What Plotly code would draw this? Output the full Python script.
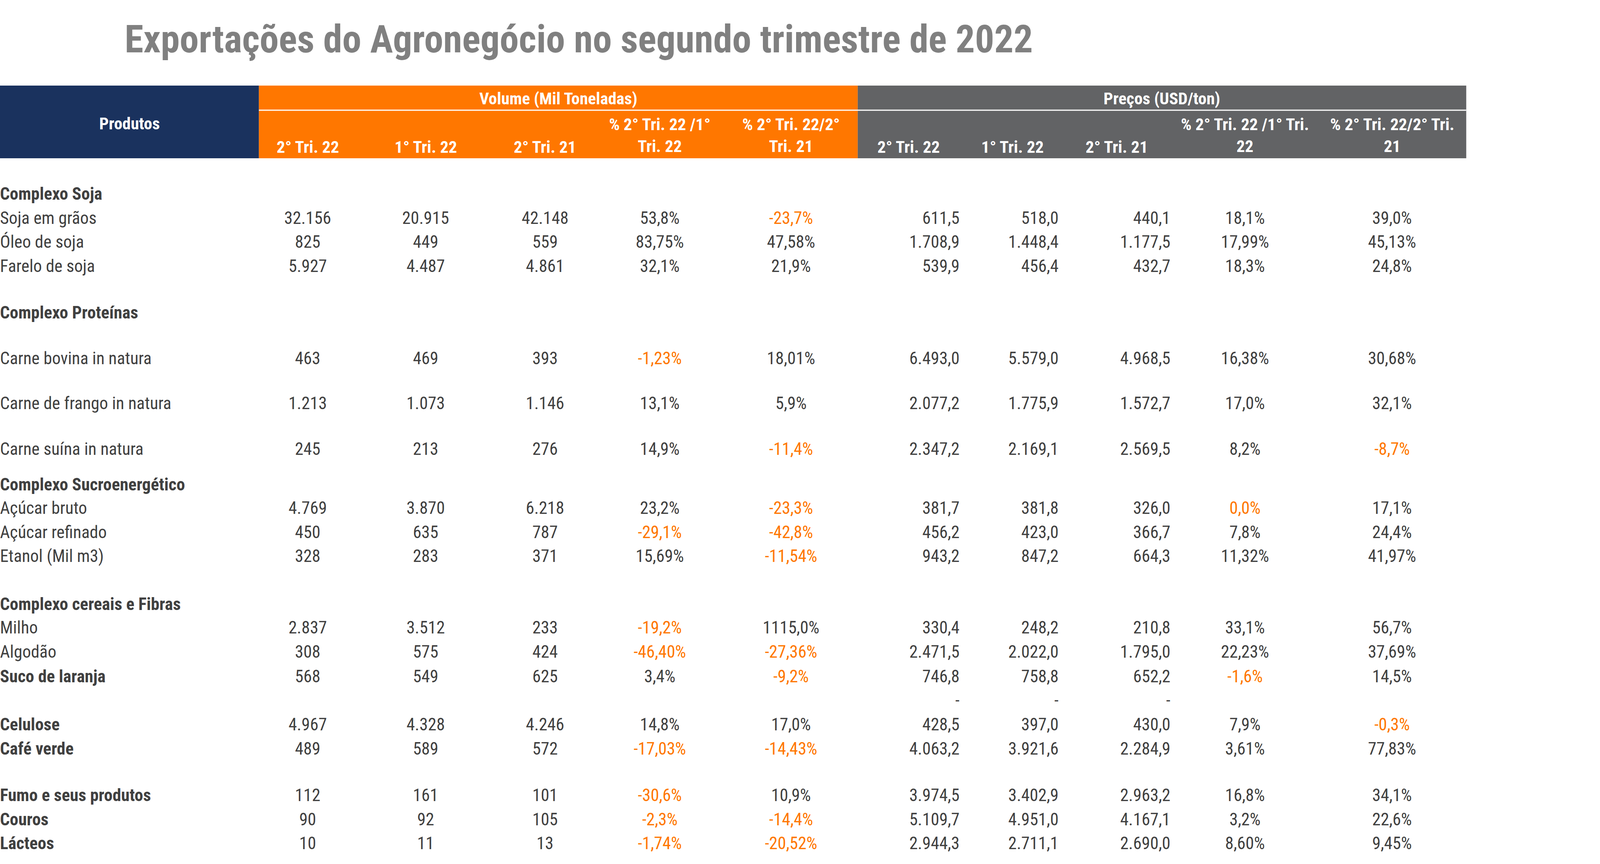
import plotly.graph_objects as go

title = "Exportações do Agronegócio no segundo trimestre de 2022"
vol_headers = ["2° Tri. 22", "1° Tri. 22", "2° Tri. 21", "% 2° Tri. 22 /1°<br>Tri. 22", "% 2° Tri. 22/2°<br>Tri. 21"]
price_headers = ["2° Tri. 22", "1° Tri. 22", "2° Tri. 21", "% 2° Tri. 22 /1° Tri.<br>22", "% 2° Tri. 22/2° Tri.<br>21"]

products = ["Complexo Soja", "Soja em grãos", "Óleo de soja", "Farelo de soja",
            "Complexo Proteínas", "Carne bovina in natura", "Carne de frango in natura", "Carne suína in natura",
            "Complexo Sucroenergético", "Açúcar bruto", "Açúcar refinado", "Etanol (Mil m3)",
            "Complexo cereais e Fibras", "Milho", "Algodão", "Suco de laranja", "",
            "Celulose", "Café verde", "Fumo e seus produtos", "Couros", "Lácteos"]
bold = [True, False, False, False, True, False, False, False, True, False, False, False,
        True, False, False, True, False, True, True, True, True, True]

vol_q222 = ["", "32.156", "825", "5.927", "", "463", "1.213", "245", "", "4.769", "450", "328", "", "2.837", "308", "568", "", "4.967", "489", "112", "90", "10"]
vol_q122 = ["", "20.915", "449", "4.487", "", "469", "1.073", "213", "", "3.870", "635", "283", "", "3.512", "575", "549", "", "4.328", "589", "161", "92", "11"]
vol_q221 = ["", "42.148", "559", "4.861", "", "393", "1.146", "276", "", "6.218", "787", "371", "", "233", "424", "625", "", "4.246", "572", "101", "105", "13"]
vol_pct1 = ["", "53,8%", "83,75%", "32,1%", "", "-1,23%", "13,1%", "14,9%", "", "23,2%", "-29,1%", "15,69%", "", "-19,2%", "-46,40%", "3,4%", "", "14,8%", "-17,03%", "-30,6%", "-2,3%", "-1,74%"]
vol_pct2 = ["", "-23,7%", "47,58%", "21,9%", "", "18,01%", "5,9%", "-11,4%", "", "-23,3%", "-42,8%", "-11,54%", "", "1115,0%", "-27,36%", "-9,2%", "", "17,0%", "-14,43%", "10,9%", "-14,4%", "-20,52%"]
prc_q222 = ["", "611,5", "1.708,9", "539,9", "", "6.493,0", "2.077,2", "2.347,2", "", "381,7", "456,2", "943,2", "", "330,4", "2.471,5", "746,8", "-", "428,5", "4.063,2", "3.974,5", "5.109,7", "2.944,3"]
prc_q122 = ["", "518,0", "1.448,4", "456,4", "", "5.579,0", "1.775,9", "2.169,1", "", "381,8", "423,0", "847,2", "", "248,2", "2.022,0", "758,8", "-", "397,0", "3.921,6", "3.402,9", "4.951,0", "2.711,1"]
prc_q221 = ["", "440,1", "1.177,5", "432,7", "", "4.968,5", "1.572,7", "2.569,5", "", "326,0", "366,7", "664,3", "", "210,8", "1.795,0", "652,2", "-", "430,0", "2.284,9", "2.963,2", "4.167,1", "2.690,0"]
prc_pct1 = ["", "18,1%", "17,99%", "18,3%", "", "16,38%", "17,0%", "8,2%", "", "0,0%", "7,8%", "11,32%", "", "33,1%", "22,23%", "-1,6%", "", "7,9%", "3,61%", "16,8%", "3,2%", "8,60%"]
prc_pct2 = ["", "39,0%", "45,13%", "24,8%", "", "30,68%", "32,1%", "-8,7%", "", "17,1%", "24,4%", "41,97%", "", "56,7%", "37,69%", "14,5%", "", "-0,3%", "77,83%", "34,1%", "22,6%", "9,45%"]
highlighted = ["0,0%"]

# layout (pixel positions)
W, H = 4462, 2211
row_y = [500, 562, 623, 685, 804, 921, 1036, 1153, 1244, 1304, 1366, 1427, 1550, 1610, 1672, 1735, 1796, 1858, 1920, 2039, 2101, 2162]
FONT = "Liberation Sans Narrow, Roboto Condensed, Roboto, sans-serif"
GREY_TXT = "#404040"
ORANGE = "#FF7700"

fig = go.Figure()

def add_col(vals, x, pos):
    cols = [ORANGE if (v.startswith("-") and len(v) > 1) or v in highlighted else GREY_TXT for v in vals]
    fig.add_trace(go.Scatter(x=[x] * len(vals), y=row_y, mode="text", text=vals,
                             textposition=pos, textfont=dict(family=FONT, size=44, color=cols),
                             hoverinfo="skip", showlegend=False))

fig.add_trace(go.Scatter(x=[0] * len(products), y=row_y, mode="text",
                         text=[f"<b>{p}</b>" if b else p for p, b in zip(products, bold)],
                         textposition="middle right",
                         textfont=dict(family=FONT, size=44, color=GREY_TXT),
                         hoverinfo="skip", showlegend=False))
vol_x = [858, 1187, 1520, 1840, 2206]
for vals, x in zip([vol_q222, vol_q122, vol_q221, vol_pct1, vol_pct2], vol_x):
    add_col(vals, x, "middle center")
prc_right = [2676, 2952, 3264]
for vals, x in zip([prc_q222, prc_q122, prc_q221], prc_right):
    add_col(vals, x, "middle left")
prc_pct_x = [3472, 3882]
for vals, x in zip([prc_pct1, prc_pct2], prc_pct_x):
    add_col(vals, x, "middle center")

shapes = [
    dict(type="rect", x0=0, x1=722, y0=219, y1=405, fillcolor="#1A325E", line_width=0),
    dict(type="rect", x0=722, x1=2392, y0=219, y1=405, fillcolor="#FF7700", line_width=0),
    dict(type="rect", x0=2392, x1=4089, y0=219, y1=405, fillcolor="#626365", line_width=0),
    dict(type="line", x0=722, x1=4089, y0=282, y1=282, line=dict(color="white", width=3)),
]
for s in shapes:
    s.update(xref="x", yref="y", layer="below")

ann = [dict(x=361, y=316, text="<b>Produtos</b>"),
       dict(x=1557, y=252, text="<b>Volume (Mil Toneladas)</b>"),
       dict(x=3240, y=252, text="<b>Preços (USD/ton)</b>")]
for h, x in zip(vol_headers, vol_x):
    ann.append(dict(x=x, y=376 if "<br>" not in h else 346, text=f"<b>{h}</b>"))
for h, x in zip(price_headers, [2534, 2824, 3114] + prc_pct_x):
    ann.append(dict(x=x, y=376 if "<br>" not in h else 346, text=f"<b>{h}</b>"))
for a in ann:
    a.update(xref="x", yref="y", showarrow=False, xanchor="center", yanchor="middle",
             font=dict(family=FONT, size=43, color="white"))
ann.append(dict(x=345, y=100, xref="x", yref="y", text=f"<b>{title}</b>", showarrow=False,
                xanchor="left", yanchor="middle",
                font=dict(family=FONT, size=98, color="#808080")))

fig.update_layout(autosize=True, margin=dict(l=0, r=0, t=0, b=0),
                  paper_bgcolor="white", plot_bgcolor="white",
                  shapes=shapes, annotations=ann,
                  xaxis=dict(range=[0, W], visible=False, fixedrange=True),
                  yaxis=dict(range=[H, 0], visible=False, fixedrange=True))
post = ("document.body.style.margin='0';document.body.style.overflow='hidden';"
        "var gd=document.getElementById('{plot_id}');gd.style.width='100vw';gd.style.height='100vh';"
        "Plotly.Plots.resize(gd);")
fig.write_html("out.html", config={"displayModeBar": False, "responsive": True},
               default_width="100vw", default_height="100vh", post_script=post)
